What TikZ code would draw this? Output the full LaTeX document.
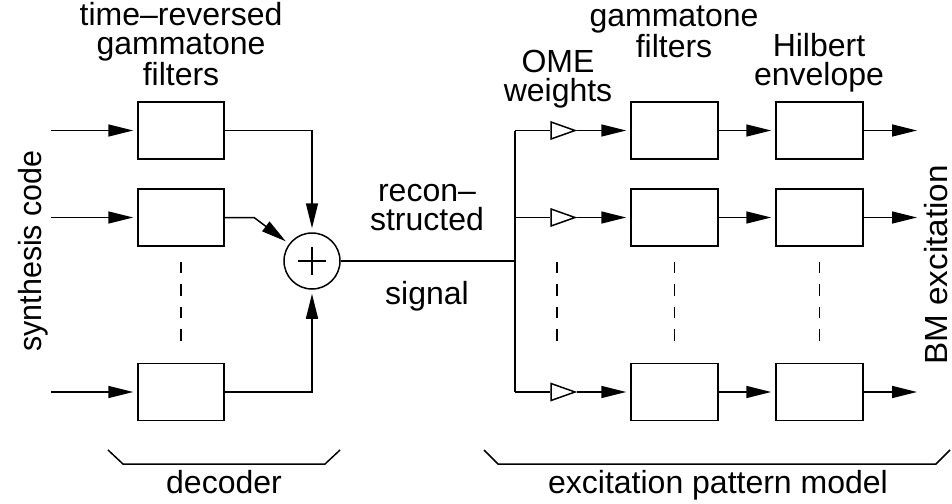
\documentclass[tikz,border=0pt]{standalone}
\usepackage{fontspec}
\setmainfont{Liberation Sans}
\usetikzlibrary{arrows.meta,shapes.geometric}
\begin{document}
\begin{tikzpicture}[x=1pt,y=-1pt,line width=1.5pt,
  blk/.style={draw,minimum width=86pt,minimum height=57pt,inner sep=0pt},
  arr/.style={-{Triangle[length=25pt,width=12pt]},shorten >=4pt},
  lbl/.style={font=\fontsize{32}{28.5}\selectfont,align=center,inner sep=0pt},
  dsh/.style={dash pattern=on 11.5pt off 11pt},
  ome/.style={draw,fill=white,isosceles triangle,isosceles triangle stretches,
              minimum width=17pt,minimum height=24pt,inner sep=0pt}]
\useasboundingbox (0,0) rectangle (952,503);

% decoder boxes
\node[blk] (d1) at (181,130.5) {};
\node[blk] (d2) at (181,217.5) {};
\node[blk] (d3) at (181,392) {};
\coordinate (i1) at (51,130.5);
\coordinate (i2) at (51,217.5);
\coordinate (i3) at (51,392);
\draw[arr] (i1) -- (d1);
\draw[arr] (i2) -- (d2);
\draw[arr] (i3) -- (d3);

% sum
\node[draw,circle,minimum size=56pt,inner sep=0pt] (s) at (312,261) {};
\draw ([xshift=-14pt]s.center) -- ([xshift=14pt]s.center);
\draw ([yshift=-14pt]s.center) -- ([yshift=14pt]s.center);
\coordinate (k2) at (254,217.5);
\draw[arr] (d1) -- (d1 -| s) -- (s);
\draw[arr] (d2) -- (k2) -- (s);
\draw[arr] (d3) -- (d3 -| s) -- (s);

% branch
\coordinate (br) at (515,261);
\coordinate (bt) at (515,130.5);
\coordinate (bb) at (515,392);
\draw (s) -- (br);
\draw (bt) -- (bb);

% OME weights
\node[ome] (w1) at (557,130.5) {};
\node[ome] (w2) at (557,217.5) {};
\node[ome] (w3) at (557,392) {};
\draw (bt) -- (w1);
\draw (w2 -| bt) -- (w2);
\draw (bb) -- (w3);

% gammatone and Hilbert boxes
\node[blk,minimum width=87pt] (g1) at (674.5,130.5) {};
\node[blk,minimum width=87pt] (g2) at (674.5,217.5) {};
\node[blk,minimum width=87pt] (g3) at (674.5,392) {};
\node[blk,minimum width=87pt] (h1) at (819.5,130.5) {};
\node[blk,minimum width=87pt] (h2) at (819.5,217.5) {};
\node[blk,minimum width=87pt] (h3) at (819.5,392) {};
\coordinate (o1) at (921,130.5);
\coordinate (o2) at (921,217.5);
\coordinate (o3) at (921,392);
\draw[arr] (w1) -- (g1);
\draw[arr] (w2) -- (g2);
\draw[arr] (w3) -- (g3);
\draw[arr] (g1) -- (h1);
\draw[arr] (g2) -- (h2);
\draw[arr] (g3) -- (h3);
\draw[arr] (h1) -- (o1);
\draw[arr] (h2) -- (o2);
\draw[arr] (h3) -- (o3);

% dashed continuation lines
\coordinate (dt) at (0,261.5);
\coordinate (db) at (0,342.5);
\draw[dsh] (d2 |- dt) -- (d2 |- db);
\draw[dsh] (w2 |- dt) -- (w2 |- db);
\draw[dsh] (g2 |- dt) -- (g2 |- db);
\draw[dsh] (h2 |- dt) -- (h2 |- db);

% braces
\coordinate (a1) at (108,450);
\coordinate (a2) at (123,464);
\coordinate (a3) at (325,464);
\coordinate (a4) at (340,450);
\draw (a1) -- (a2) -- (a3) -- (a4);
\coordinate (b1) at (484,450);
\coordinate (b2) at (498,464);
\coordinate (b3) at (936,464);
\coordinate (b4) at (950,450);
\draw (b1) -- (b2) -- (b3) -- (b4);

% labels
\node[lbl,anchor=base] (Ltr) at (181,85) {time--reversed\\gammatone\\filters};
\node[lbl,anchor=base] (Lome) at (558,101) {OME\\weights};
\node[lbl,anchor=base] (Lgt) at (674,57) {gammatone\\filters};
\node[lbl,anchor=base] (Lhe) at (819,85) {Hilbert\\envelope};
\node[lbl,anchor=base] (Lrs) at (427,230) {recon--\\structed};
\node[lbl,anchor=base] (Lsig) at (427,304) {signal};
\node[lbl,anchor=base] (Ldec) at (224,493) {decoder};
\node[lbl,anchor=base] (Lepm) at (718,493) {excitation pattern model};
\node[lbl,rotate=90,xscale=0.95,anchor=base] (Lsyn) at (41,251) {synthesis code};
\node[lbl,rotate=90,xscale=1.04,anchor=base] (Lbm) at (947,265) {BM excitation};
\end{tikzpicture}
\end{document}
